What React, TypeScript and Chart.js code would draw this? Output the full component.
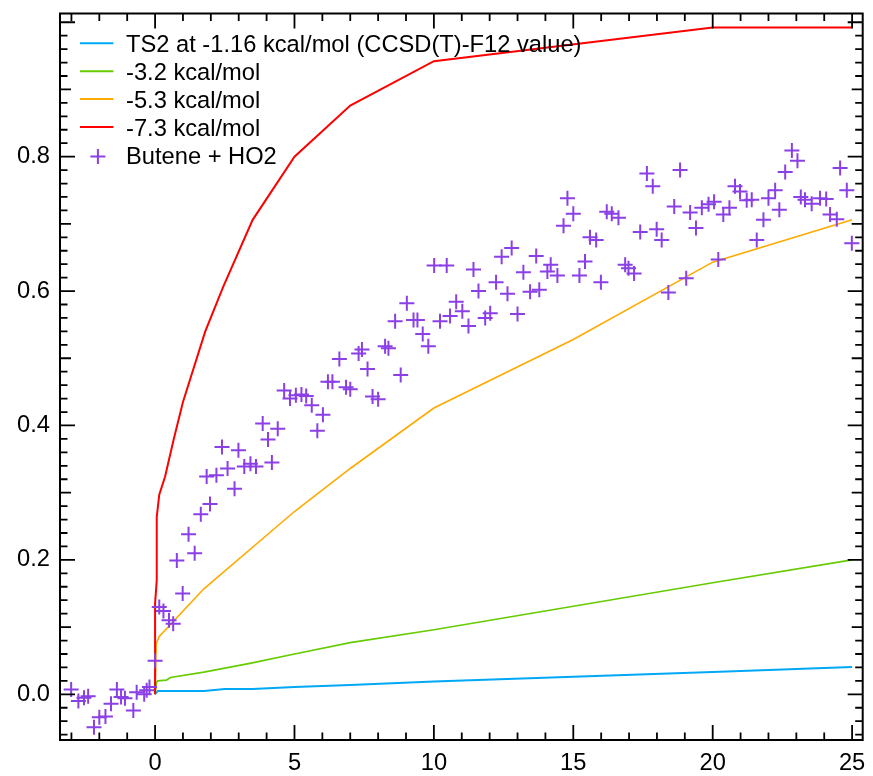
import React, { useEffect, useRef } from 'react';
import { Chart, registerables } from 'chart.js';
Chart.register(...registerables);

// ---- data ----
const seriesLabels = [
  'TS2 at -1.16 kcal/mol (CCSD(T)-F12 value)',
  '-3.2 kcal/mol',
  '-5.3 kcal/mol',
  '-7.3 kcal/mol',
  'Butene + HO2',
];

const ts2X = [0, 0.05, 0.1, 1.75, 2.5, 3.5, 5, 7, 10, 15, 20, 25];
const ts2Y = [0, 0.003, 0.005, 0.005, 0.008, 0.008, 0.011, 0.014, 0.019, 0.026, 0.033, 0.0405];

const k32X = [0, 0.05, 0.1, 0.4, 0.55, 1.75, 3.4, 5, 7, 10, 15, 20, 25];
const k32Y = [0, 0.018, 0.02, 0.021, 0.025, 0.033, 0.046, 0.06, 0.077, 0.096, 0.131, 0.166, 0.2];

const k53X = [0, 0.04, 0.15, 1.75, 5, 7, 10, 15, 20, 25];
const k53Y = [0, 0.075, 0.086, 0.157, 0.272, 0.336, 0.426, 0.528, 0.643, 0.706];

const k73X = [0, 0, 0.06, 0.06, 0.15, 0.36, 0.66, 1.0, 1.8, 2.45, 3.5, 5, 7, 10, 20, 25];
const k73Y = [0, 0.135, 0.17, 0.264, 0.297, 0.324, 0.378, 0.435, 0.54, 0.607, 0.706, 0.8, 0.876, 0.942, 0.992, 0.992];

const butX = [
  -3.01, -2.75, -2.55, -2.4, -2.19, -2.0, -1.78, -1.58, -1.37, -1.22, -1.08, -0.78, -0.66, -0.39, -0.3, -0.2,
  0.0, 0.15, 0.3, 0.5, 0.65, 0.78, 0.99, 1.2, 1.42, 1.64, 1.85, 1.97, 2.2, 2.4, 2.6, 2.85, 2.99, 3.2, 3.42, 3.62,
  3.86, 4.05, 4.19, 4.4, 4.63, 4.84, 5.05, 5.25, 5.42, 5.62, 5.82, 6.02, 6.2, 6.36, 6.61, 6.85, 7.0, 7.3, 7.42,
  7.62, 7.8, 8.0, 8.25, 8.37, 8.61, 8.81, 9.03, 9.27, 9.41, 9.6, 9.8, 10.01, 10.22, 10.46, 10.58, 10.8, 11.02,
  11.24, 11.42, 11.6, 11.84, 12.02, 12.23, 12.43, 12.64, 12.79, 13.0, 13.21, 13.45, 13.67, 13.78, 14.07, 14.19,
  14.43, 14.65, 14.79, 15.0, 15.22, 15.42, 15.6, 15.82, 15.99, 16.2, 16.38, 16.62, 16.86, 16.98, 17.18, 17.4,
  17.64, 17.85, 17.99, 18.17, 18.41, 18.62, 18.83, 19.05, 19.19, 19.4, 19.61, 19.85, 20.05, 20.2, 20.38, 20.6,
  20.8, 20.98, 21.22, 21.4, 21.58, 21.82, 22.0, 22.24, 22.39, 22.6, 22.84, 23.04, 23.16, 23.31, 23.55, 23.85,
  24.07, 24.21, 24.45, 24.57, 24.81, 24.99,
];
const butY = [
  0.007, -0.01, -0.005, -0.003, -0.049, -0.034, -0.033, -0.014, 0.007, -0.004, -0.006, -0.024, 0.003, 0.0, 0.006, 0.011,
  0.05, 0.13, 0.124, 0.11, 0.105, 0.199, 0.15, 0.238, 0.21, 0.268, 0.324, 0.283, 0.326, 0.368, 0.336, 0.306, 0.363, 0.339, 0.343, 0.339,
  0.403, 0.379, 0.345, 0.395, 0.452, 0.44, 0.445, 0.446, 0.444, 0.43, 0.392, 0.416, 0.465, 0.465, 0.499, 0.457, 0.454, 0.507, 0.513,
  0.484, 0.443, 0.439, 0.518, 0.515, 0.555, 0.475, 0.582, 0.557, 0.557, 0.536, 0.518, 0.638, 0.555, 0.638, 0.563, 0.584, 0.57,
  0.548, 0.632, 0.6, 0.56, 0.567, 0.613, 0.651, 0.596, 0.664, 0.566, 0.628, 0.599, 0.652, 0.602, 0.629, 0.639,
  0.623, 0.697, 0.738, 0.715, 0.623, 0.644, 0.68, 0.676, 0.613, 0.718, 0.715, 0.709, 0.639, 0.634, 0.626, 0.688,
  0.775, 0.756, 0.692, 0.676, 0.598, 0.726, 0.78, 0.619, 0.717, 0.694, 0.724, 0.729, 0.733, 0.647, 0.714, 0.724,
  0.756, 0.748, 0.735, 0.736, 0.676, 0.706, 0.738, 0.75, 0.721, 0.777, 0.809, 0.794, 0.74, 0.736, 0.73, 0.738,
  0.737, 0.714, 0.707, 0.783, 0.75, 0.671,
];

const xTickValues = [0, 5, 10, 15, 20, 25];
const xTickLabels = ['0', '5', '10', '15', '20', '25'];
const yTickValues = [0, 0.2, 0.4, 0.6, 0.8];
const yTickLabels = ['0.0', '0.2', '0.4', '0.6', '0.8'];

const colors = ['#00a8f5', '#66cc00', '#ffaa00', '#ff0000', '#8b3fe6'];
const FONT_FAMILY = '"Liberation Sans", Arial, Helvetica, sans-serif';
const FONT_SIZE = 23.7;

const zip = (xs: number[], ys: number[]) => xs.map((x, i) => ({ x, y: ys[i] }));

const framePlugin = {
  id: 'frameTicks',
  afterDatasetsDraw(chart: any) {
    const { ctx, chartArea: a, scales } = chart;
    const xs = scales.x;
    const ys = scales.y;
    ctx.save();
    ctx.strokeStyle = '#000';
    ctx.lineWidth = 1.8;
    ctx.beginPath();
    for (let v = Math.ceil(xs.min); v <= xs.max + 1e-9; v++) {
      const px = xs.getPixelForValue(v);
      const len = v % 5 === 0 ? 15 : 7.5;
      ctx.moveTo(px, a.bottom);
      ctx.lineTo(px, a.bottom - len);
      ctx.moveTo(px, a.top);
      ctx.lineTo(px, a.top + len);
    }
    for (let i = Math.ceil(ys.min / 0.02 - 1e-9); i * 0.02 <= ys.max + 1e-9; i++) {
      const py = ys.getPixelForValue(i * 0.02);
      const len = i % 10 === 0 ? 15 : i % 5 === 0 ? 11 : 7.5;
      ctx.moveTo(a.left, py);
      ctx.lineTo(a.left + len, py);
      ctx.moveTo(a.right, py);
      ctx.lineTo(a.right - len, py);
    }
    ctx.stroke();
    ctx.lineWidth = 2;
    ctx.strokeRect(a.left, a.top, a.right - a.left, a.bottom - a.top);
    ctx.restore();
  },
};

const legendPlugin = {
  id: 'insideLegend',
  afterDraw(chart: any) {
    const { ctx } = chart;
    const rowY0 = 43.3;
    const rowStep = 27.9;
    ctx.save();
    ctx.font = `${FONT_SIZE}px ${FONT_FAMILY}`;
    ctx.fillStyle = '#000';
    ctx.textAlign = 'left';
    ctx.textBaseline = 'alphabetic';
    chart.data.datasets.forEach((ds: any, i: number) => {
      const cy = rowY0 + rowStep * i;
      ctx.strokeStyle = ds.borderColor;
      if (ds.showLine) {
        ctx.lineWidth = 2;
        ctx.beginPath();
        ctx.moveTo(80, cy);
        ctx.lineTo(113.4, cy);
        ctx.stroke();
      } else {
        ctx.lineWidth = 2;
        const cx = 97.9;
        const c = cy + 1.5;
        ctx.beginPath();
        ctx.moveTo(cx - 7.5, c);
        ctx.lineTo(cx + 7.5, c);
        ctx.moveTo(cx, c - 7.5);
        ctx.lineTo(cx, c + 7.5);
        ctx.stroke();
      }
      ctx.fillText(ds.label, 126, cy + 8.6);
    });
    ctx.restore();
  },
};

export default function App() {
  const ref = useRef<HTMLCanvasElement | null>(null);
  useEffect(() => {
    if (!ref.current) return;
    const lineDs = (i: number, xs: number[], ys: number[], w: number) => ({
      label: seriesLabels[i],
      data: zip(xs, ys),
      showLine: true,
      borderColor: colors[i],
      backgroundColor: colors[i],
      borderWidth: w,
      pointRadius: 0,
      pointHoverRadius: 0,
      tension: 0,
      fill: false,
      order: 5 - i,
    });
    const font = { family: FONT_FAMILY, size: FONT_SIZE };
    const chart = new Chart(ref.current, {
      type: 'scatter',
      data: {
        datasets: [
          lineDs(0, ts2X, ts2Y, 2),
          lineDs(1, k32X, k32Y, 1.7),
          lineDs(2, k53X, k53Y, 1.6),
          lineDs(3, k73X, k73Y, 2),
          {
            label: seriesLabels[4],
            data: zip(butX, butY),
            showLine: false,
            pointStyle: 'cross',
            pointRadius: 7.5,
            pointHoverRadius: 7.5,
            borderColor: colors[4],
            backgroundColor: colors[4],
            borderWidth: 2,
            order: 0,
          } as any,
        ],
      },
      options: {
        animation: false,
        responsive: false,
        devicePixelRatio: 1,
        events: [],
        layout: { padding: { left: 0, top: 13.5, right: 10.3, bottom: 0 } },
        plugins: { legend: { display: false }, tooltip: { enabled: false } },
        scales: {
          x: {
            type: 'linear',
            min: -3.41,
            max: 25.38,
            grid: { display: false, drawTicks: false },
            border: { display: false },
            ticks: {
              font,
              color: '#000',
              padding: 9.3,
              maxRotation: 0,
              autoSkip: false,
              callback: (_v: any, i: number) => xTickLabels[i],
            },
            afterBuildTicks: (s: any) => {
              s.ticks = xTickValues.map((v) => ({ value: v }));
            },
            afterFit: (s: any) => {
              s.height = 36;
              s.paddingLeft = 0;
              s.paddingRight = 0;
              s.paddingTop = 0;
              s.paddingBottom = 0;
            },
          },
          y: {
            type: 'linear',
            min: -0.068,
            max: 1.013,
            grid: { display: false, drawTicks: false },
            border: { display: false },
            ticks: {
              font,
              color: '#000',
              padding: 10,
              autoSkip: false,
              callback: (_v: any, i: number) => yTickLabels[i],
            },
            afterBuildTicks: (s: any) => {
              s.ticks = yTickValues.map((v) => ({ value: v }));
            },
            afterFit: (s: any) => {
              s.width = 60;
              s.paddingLeft = 0;
              s.paddingRight = 0;
              s.paddingTop = 0;
              s.paddingBottom = 0;
            },
          },
        },
      } as any,
      plugins: [framePlugin, legendPlugin],
    });
    return () => chart.destroy();
  }, []);
  return (
    <div style={{ position: 'fixed', left: 0, top: 0, width: 873, height: 776, background: '#fff' }}>
      <canvas ref={ref} width={873} height={776} style={{ width: 873, height: 776, display: 'block' }} />
    </div>
  );
}
